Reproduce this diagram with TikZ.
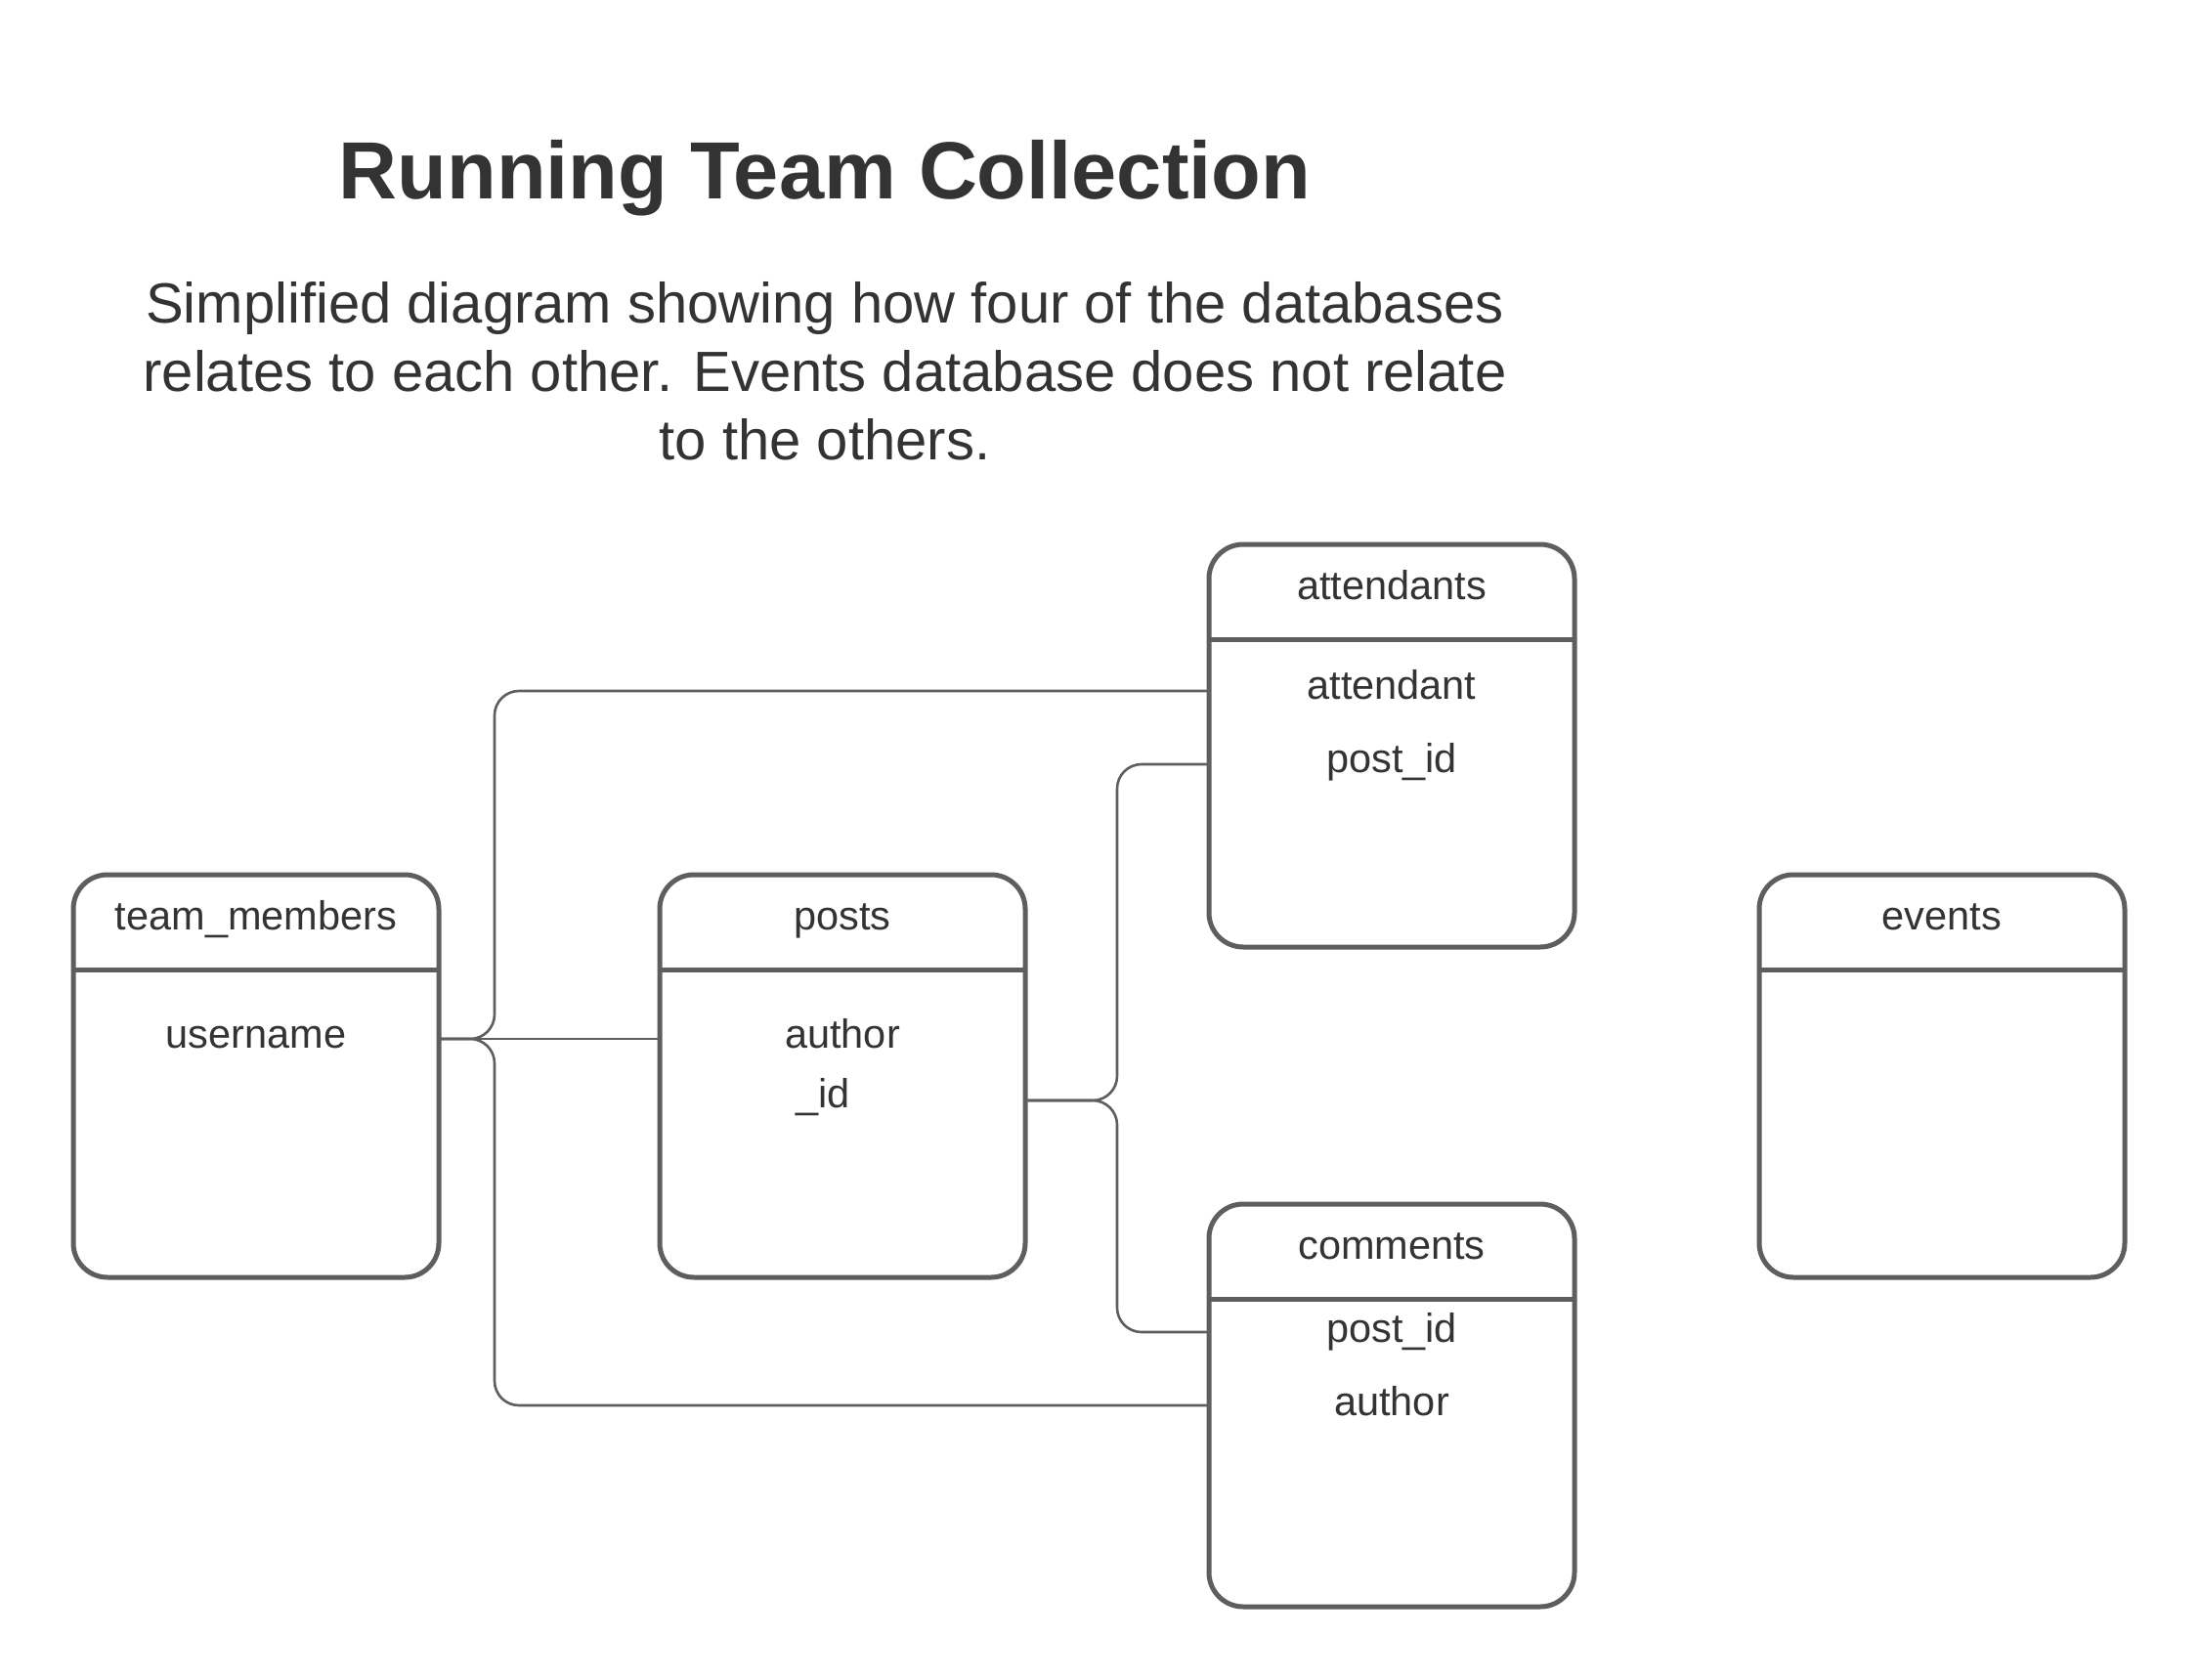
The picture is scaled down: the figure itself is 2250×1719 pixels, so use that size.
\documentclass[tikz,border=0pt]{standalone}
\usepackage{fontspec}
\setmainfont{Liberation Sans}
\definecolor{bord}{HTML}{5E5E5E}
\definecolor{txt}{HTML}{333333}
\begin{document}
\begin{tikzpicture}[x=0.5pt,y=-0.5pt,
 tbl/.style={draw=bord, line width=2.5pt, rounded corners=17.5pt, minimum width=187pt, minimum height=206pt, inner sep=0pt, outer sep=0pt, fill=white},
 hdrline/.style={draw=bord, line width=2.5pt},
 conn/.style={draw=bord, line width=1.3pt, rounded corners=12.5pt},
 lbl/.style={anchor=base, text=txt, inner sep=0pt, font=\fontsize{20.75pt}{24pt}\selectfont},
 sub/.style={anchor=base, text=txt, inner sep=0pt, font=\fontsize{29pt}{35pt}\selectfont},
]
\useasboundingbox (0,0) rectangle (2250,1719);

% title and description
\node[anchor=base, text=txt, inner sep=0pt, font=\bfseries\fontsize{41.5pt}{48pt}\selectfont] (title) at (844,203.3) {Running Team Collection};
\node[sub] (sub1) at (844,330) {Simplified diagram showing how four of the databases};
\node[sub] (sub2) at (844,400) {relates to each other. Events database does not relate};
\node[sub] (sub3) at (844,470) {to the others.};

% tables
\node[tbl] (tm) at (262,1101) {};
\node[tbl] (posts) at (862,1101) {};
\node[tbl] (att) at (1424,763) {};
\node[tbl] (com) at (1424,1438) {};
\node[tbl] (ev) at (1987,1101) {};

\foreach \n in {tm,posts,att,com,ev}{
  \draw[hdrline] ([yshift=-48.5pt]\n.north west) -- ([yshift=-48.5pt]\n.north east);
}

% labels
\node[lbl] (tmh) at (262,951.7) {team\_members};
\node[lbl] (uname) at (262,1072.7) {username};
\node[lbl] (ph) at (862,951.7) {posts};
\node[lbl] (pauth) at (862,1072.7) {author};
\node[lbl] (pid) at (842,1133.3) {\_id};
\node[lbl] (atth) at (1424,613.3) {attendants};
\node[lbl] (att1) at (1424,715) {attendant};
\node[lbl] (att2) at (1424,790) {post\_id};
\node[lbl] (comh) at (1424,1288.3) {comments};
\node[lbl] (com1) at (1424,1373.3) {post\_id};
\node[lbl] (com2) at (1424,1448.3) {author};
\node[lbl] (evh) at (1987,951) {events};

% connector rows and junction columns
\coordinate (rU) at (506,1063);
\coordinate (rA1) at (506,707);
\coordinate (rC2) at (506,1438);
\coordinate (rP) at (1143,1126);
\coordinate (rA2) at (1143,782);
\coordinate (rC1) at (1143,1363);

% connectors
\draw[conn] (tm.east |- rU) -- (posts.west |- rU);
\draw[conn] (tm.east |- rU) -| (rA1) -- (att.west |- rA1);
\draw[conn] (tm.east |- rU) -| (rC2) -- (com.west |- rC2);
\draw[conn] (posts.east |- rP) -| (rA2) -- (att.west |- rA2);
\draw[conn] (posts.east |- rP) -| (rC1) -- (com.west |- rC1);
\end{tikzpicture}
\end{document}
